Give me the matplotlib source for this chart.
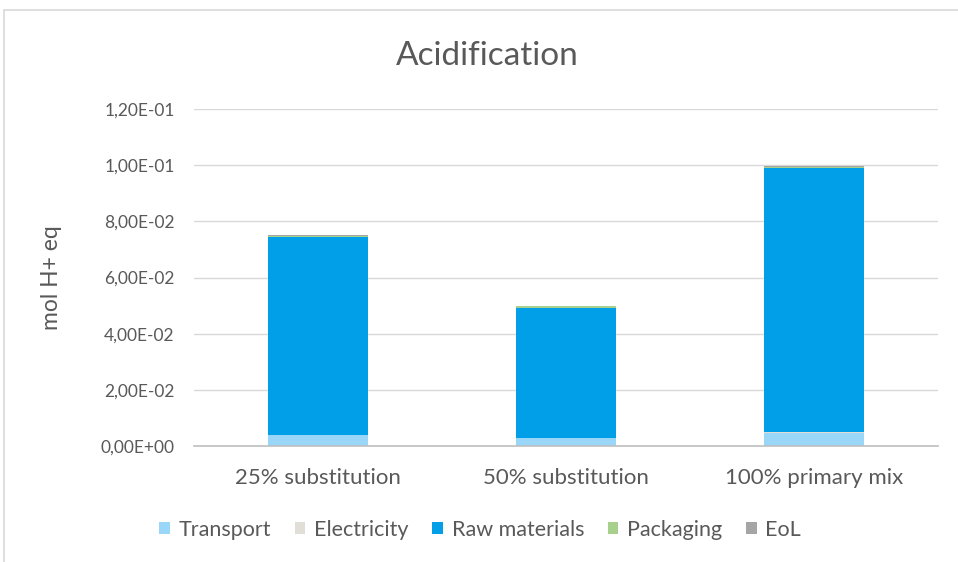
import matplotlib
matplotlib.use("Agg")
import matplotlib.pyplot as plt
import numpy as np
from matplotlib.patches import Rectangle
from matplotlib.ticker import FuncFormatter

plt.rcParams["font.family"] = ["Lato", "DejaVu Sans"]

CATEGORIES = ["25% substitution", "50% substitution", "100% primary mix"]
SERIES_NAMES = ["Transport", "Electricity", "Raw materials", "Packaging", "EoL"]
TRANSPORT = [0.0038, 0.0028, 0.0046]
ELECTRICITY = [0.0002, 0.0002, 0.0003]
RAW_MATERIALS = [0.0704, 0.0462, 0.0940]
PACKAGING = [0.0003, 0.0005, 0.0003]
EOL = [0.0004, 0.0003, 0.0004]
COLORS = ["#9AD6F7", "#E0DED6", "#009FE8", "#A8D08D", "#A5A5A5"]
TEXT_COLOR = "#595959"

fig = plt.figure(figsize=(9.58, 5.62), dpi=100)
ax = fig.add_axes([194 / 958, 116 / 562, 744 / 958, 337 / 562])

# outer chart border
fig.patches.append(Rectangle((4 / 958, -0.01), 1.0, (562 - 10) / 562 + 0.01,
                             transform=fig.transFigure, fill=False,
                             edgecolor="#D9D9D9", linewidth=1.2))

x = np.arange(len(CATEGORIES))
bottom = np.zeros(len(CATEGORIES))
handles = []
for name, values, color in zip(SERIES_NAMES,
                               [TRANSPORT, ELECTRICITY, RAW_MATERIALS, PACKAGING, EOL],
                               COLORS):
    bars = ax.bar(x, values, width=0.405, bottom=bottom, color=color, label=name, zorder=3)
    handles.append(bars)
    bottom += np.array(values)

ax.set_xlim(-0.5, len(CATEGORIES) - 0.5)
ax.set_ylim(0, 0.12)
ax.set_yticks(np.arange(0, 0.1201, 0.02))
ax.yaxis.set_major_formatter(FuncFormatter(lambda v, _: f"{v:.2E}".replace(".", ",")))
ax.set_xticks(x)
ax.set_xticklabels(CATEGORIES)
ax.tick_params(axis="both", length=0, colors=TEXT_COLOR)
ax.tick_params(axis="x", pad=16, labelsize=16)
ax.tick_params(axis="y", pad=14, labelsize=12.5)
ax.grid(True, axis="y", color="#D9D9D9", linewidth=1.0, zorder=0)
for side in ("top", "right", "left"):
    ax.spines[side].set_visible(False)
ax.spines["bottom"].set_color("#BFBFBF")
ax.spines["bottom"].set_linewidth(1.2)
ax.spines["bottom"].set_zorder(4)

ax.set_ylabel("mol H+ eq", fontsize=16.5, color=TEXT_COLOR)
ax.yaxis.set_label_coords((62 - 194) / 744, 0.5)
fig.text(487 / 958, 1 - 56 / 562, "Acidification", ha="center", va="center",
         fontsize=24, color=TEXT_COLOR)

fig.legend(handles=handles, labels=SERIES_NAMES, loc="center",
           bbox_to_anchor=(480 / 958, 1 - 530 / 562), ncol=5, frameon=False,
           fontsize=15.5, labelcolor=TEXT_COLOR, handlelength=0.5, handleheight=0.5,
           handletextpad=0.4, columnspacing=1.1)

fig.savefig("out.png", dpi=100, facecolor="white")
